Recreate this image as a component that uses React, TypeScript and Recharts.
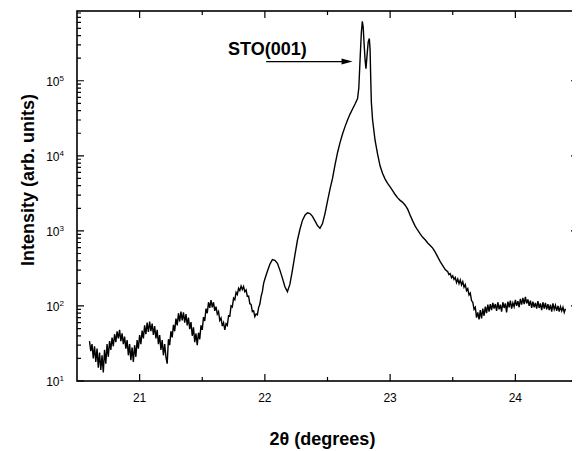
import { Line, LineChart, ReferenceLine, XAxis, YAxis } from "recharts";

const FONT = '"Liberation Sans", Arial, sans-serif';

// 2theta (deg), intensity (arb. units)
const fringesLow: [number, number][] = [
  [20.6, 34], [20.61, 25], [20.62, 31], [20.63, 20], [20.64, 29], [20.65, 18], [20.66, 27], [20.67, 15], [20.68, 24], [20.69, 14],
  [20.7, 22], [20.71, 13], [20.72, 26], [20.73, 17], [20.74, 31], [20.75, 21], [20.76, 34], [20.77, 26], [20.78, 38], [20.79, 29],
  [20.8, 42], [20.81, 33], [20.82, 46], [20.83, 37], [20.84, 48], [20.85, 34], [20.86, 43], [20.87, 31], [20.88, 39], [20.89, 27],
  [20.9, 35], [20.91, 22], [20.92, 31], [20.93, 19], [20.94, 28], [20.95, 18], [20.96, 30], [20.97, 21], [20.98, 35], [20.99, 27],
  [21.0, 41], [21.01, 31], [21.02, 47], [21.03, 37], [21.04, 55], [21.05, 42], [21.06, 60], [21.07, 45], [21.08, 62], [21.09, 46],
  [21.1, 58], [21.11, 41], [21.12, 54], [21.13, 37], [21.14, 48], [21.15, 31], [21.16, 41], [21.17, 26], [21.18, 35], [21.19, 22],
  [21.2, 31], [21.21, 21], [21.22, 17], [21.23, 36], [21.24, 30], [21.25, 46], [21.26, 38], [21.27, 56], [21.28, 46], [21.29, 68],
  [21.3, 55], [21.31, 80], [21.32, 62], [21.33, 84], [21.34, 64], [21.35, 82], [21.36, 60], [21.37, 78], [21.38, 55], [21.39, 70],
  [21.4, 49], [21.41, 61], [21.42, 40], [21.43, 52], [21.44, 33], [21.45, 43], [21.46, 30], [21.47, 44], [21.48, 36], [21.49, 55],
  [21.5, 48], [21.51, 71], [21.52, 63], [21.53, 92], [21.54, 80], [21.55, 112], [21.56, 94], [21.57, 120], [21.58, 96], [21.59, 112],
  [21.6, 86],
];

const fringesHigh: [number, number][] = [
  [21.61, 98], [21.62, 78], [21.63, 84], [21.64, 64], [21.65, 69], [21.66, 54], [21.67, 60], [21.68, 48], [21.69, 58], [21.7, 55],
  [21.71, 74], [21.72, 73], [21.73, 100], [21.74, 97], [21.75, 127], [21.76, 121], [21.77, 152], [21.78, 142], [21.79, 172], [21.8, 160],
  [21.81, 184], [21.82, 165], [21.83, 181], [21.84, 155], [21.85, 163], [21.86, 134], [21.87, 135], [21.88, 107], [21.89, 105], [21.9, 84],
  [21.91, 86], [21.92, 72], [21.93, 78], [21.94, 76], [21.95, 95], [21.96, 106], [21.97, 134], [21.98, 155], [21.99, 200], [22.0, 228],
];

const peakRegion: [number, number][] = [
  [22.02, 290], [22.04, 360], [22.06, 415], [22.08, 405], [22.1, 370], [22.12, 300], [22.14, 235], [22.16, 180], [22.18, 155],
  [22.2, 195], [22.22, 300], [22.24, 480], [22.26, 750], [22.28, 1050], [22.3, 1380], [22.32, 1620], [22.34, 1740], [22.36, 1700],
  [22.38, 1560], [22.4, 1360], [22.42, 1180], [22.44, 1080], [22.46, 1250], [22.48, 1700], [22.5, 2500], [22.52, 3600], [22.54, 5000],
  [22.56, 7600], [22.58, 11000], [22.6, 15000], [22.62, 19500], [22.64, 24500], [22.66, 30000], [22.68, 36000], [22.7, 42000],
  [22.72, 49000], [22.74, 58000], [22.75, 80000], [22.76, 190000], [22.77, 430000], [22.778, 620000], [22.785, 520000],
  [22.79, 360000], [22.8, 190000], [22.807, 145000], [22.815, 210000], [22.825, 330000], [22.834, 365000], [22.84, 260000],
  [22.845, 110000], [22.85, 52000], [22.86, 30000], [22.88, 16000], [22.9, 10500], [22.92, 7300], [22.94, 5800], [22.96, 4900],
  [22.98, 4300], [23.0, 3850], [23.02, 3450], [23.04, 3050], [23.06, 2750], [23.08, 2550], [23.1, 2400], [23.12, 2200],
  [23.14, 1950], [23.16, 1620], [23.18, 1360], [23.2, 1160], [23.22, 1020], [23.24, 910], [23.26, 820], [23.28, 760],
  [23.3, 690], [23.32, 640], [23.34, 590], [23.36, 520], [23.38, 450], [23.4, 390], [23.42, 345], [23.44, 305],
];

const tailRegion: [number, number][] = [
  [23.46, 285], [23.47, 262], [23.48, 270], [23.49, 238], [23.5, 252], [23.51, 226], [23.52, 240], [23.53, 205], [23.54, 228], [23.55, 198],
  [23.56, 222], [23.57, 190], [23.58, 210], [23.59, 178], [23.6, 192], [23.61, 160], [23.62, 170], [23.63, 140], [23.64, 148], [23.65, 118],
  [23.66, 112], [23.67, 90], [23.68, 96], [23.69, 70], [23.7, 82], [23.71, 66], [23.72, 88], [23.73, 68], [23.74, 92], [23.75, 74],
  [23.76, 98], [23.77, 80], [23.78, 104], [23.79, 84], [23.8, 106], [23.81, 88], [23.82, 110], [23.83, 92], [23.84, 106], [23.85, 86],
  [23.86, 112], [23.87, 90], [23.88, 104], [23.89, 84], [23.9, 112], [23.91, 94], [23.92, 108], [23.93, 82], [23.94, 114], [23.95, 96],
  [23.96, 118], [23.97, 92], [23.98, 110], [23.99, 98], [24.0, 120], [24.01, 100], [24.02, 116], [24.03, 96], [24.04, 124], [24.05, 104],
  [24.06, 128], [24.07, 106], [24.08, 132], [24.09, 108], [24.1, 122], [24.11, 100], [24.12, 118], [24.13, 94], [24.14, 114], [24.15, 96],
  [24.16, 110], [24.17, 92], [24.18, 116], [24.19, 94], [24.2, 108], [24.21, 88], [24.22, 112], [24.23, 92], [24.24, 110], [24.25, 90],
  [24.26, 106], [24.27, 88], [24.28, 104], [24.29, 84], [24.3, 108], [24.31, 90], [24.32, 102], [24.33, 86], [24.34, 100], [24.35, 84],
  [24.36, 98], [24.37, 86], [24.38, 96], [24.39, 82], [24.4, 92],
];

const xTicks = [21, 21.5, 22, 22.5, 23, 23.5, 24];
const yTicks = [
  10, 20, 30, 40, 50, 60, 70, 80, 90,
  100, 200, 300, 400, 500, 600, 700, 800, 900,
  1000, 2000, 3000, 4000, 5000, 6000, 7000, 8000, 9000,
  10000, 20000, 30000, 40000, 50000, 60000, 70000, 80000, 90000,
  100000, 200000, 300000, 400000, 500000, 600000, 700000, 800000,
];

const X_DOMAIN = [20.5, 24.5];
const Y_DOMAIN = [10, 850000];
const ARROW_FROM = { x: 22.01, y: 180000 };
const ARROW_TO = { x: 22.7, y: 180000 };

// plot box inside the 572x443 chart (margins + axis sizes below)
const PLOT_LEFT = 69;
const PLOT_TOP = 3;
const PLOT_W = 501;
const PLOT_H = 370;

const data = [...fringesLow, ...fringesHigh, ...peakRegion, ...tailRegion].map(([angle, counts]) => ({ angle, counts }));

const isDecade = (v: number) => Math.abs(Math.log10(v) - Math.round(Math.log10(v))) < 1e-9;

// same mapping as the chart axes, only used for the frame tick marks
const tickX = (v: number) => PLOT_LEFT + ((v - X_DOMAIN[0]) / (X_DOMAIN[1] - X_DOMAIN[0])) * PLOT_W;
const tickY = (v: number) =>
  PLOT_TOP +
  PLOT_H * (1 - (Math.log10(v) - Math.log10(Y_DOMAIN[0])) / (Math.log10(Y_DOMAIN[1]) - Math.log10(Y_DOMAIN[0])));

function BottomTick({ x, y, payload }: any) {
  if (!Number.isInteger(payload.value)) return <g />;
  return (
    <text x={x} y={y + 21} textAnchor="middle" fontSize={12} fontFamily={FONT} fill="#000">
      {payload.value}
    </text>
  );
}

function LeftTick({ x, y, payload }: any) {
  if (!isDecade(payload.value)) return <g />;
  return (
    <text x={x - 13} y={y + 5} textAnchor="end" fontSize={12} fontFamily={FONT} fill="#000">
      <tspan>10</tspan>
      <tspan dy={-5} fontSize={8}>
        {Math.round(Math.log10(payload.value))}
      </tspan>
    </text>
  );
}

function ArrowShape({ x1, y1, x2, y2 }: any) {
  return (
    <g>
      <line x1={x1} y1={y1} x2={x2 - 8} y2={y2} stroke="#000" strokeWidth={1.2} />
      <polygon points={`${x2},${y2} ${x2 - 11},${y2 - 3} ${x2 - 11},${y2 + 3}`} fill="#000" />
    </g>
  );
}

function XTitle({ viewBox }: any) {
  return (
    <text
      x={viewBox.x + viewBox.width / 2 - 5}
      y={viewBox.y + 64}
      textAnchor="middle"
      fontSize={18}
      fontWeight="bold"
      fontFamily={FONT}
      fill="#000"
    >
      2θ (degrees)
    </text>
  );
}

function Frame() {
  const bottom = PLOT_TOP + PLOT_H;
  const right = PLOT_LEFT + PLOT_W;
  let d = "";
  xTicks.forEach((v) => {
    const len = Number.isInteger(v) ? 7 : 4;
    const x = tickX(v);
    d += `M${x},${bottom}V${bottom - len}M${x},${PLOT_TOP}V${PLOT_TOP + len}`;
  });
  yTicks.forEach((v) => {
    const len = isDecade(v) ? 7 : 4;
    const y = tickY(v);
    d += `M${PLOT_LEFT},${y}H${PLOT_LEFT + len}M${right},${y}H${right - len}`;
  });
  return (
    <svg
      width={572}
      height={443}
      style={{ position: "absolute", left: 0, top: 0, pointerEvents: "none" }}
    >
      <rect x={PLOT_LEFT} y={PLOT_TOP} width={PLOT_W} height={PLOT_H} fill="none" stroke="#000" strokeWidth={1.6} />
      <path d={d} stroke="#000" strokeWidth={1.2} fill="none" />
    </svg>
  );
}

export default function App() {
  return (
    <div style={{ position: "relative", width: 572, height: 443 }}>
      <LineChart width={572} height={443} data={data} margin={{ top: PLOT_TOP, right: 2, bottom: 0, left: 0 }}>
        <XAxis
          xAxisId="main"
          dataKey="angle"
          type="number"
          domain={X_DOMAIN}
          ticks={xTicks}
          interval={0}
          allowDataOverflow
          height={70}
          tickSize={0}
          tickMargin={0}
          tickLine={false}
          tick={BottomTick}
          axisLine={false}
          label={<XTitle />}
        />
        <YAxis
          yAxisId="main"
          scale="log"
          type="number"
          domain={Y_DOMAIN}
          ticks={yTicks}
          interval={0}
          allowDataOverflow
          width={PLOT_LEFT}
          tickSize={0}
          tickMargin={0}
          tickLine={false}
          tick={LeftTick}
          axisLine={false}
        />
        <ReferenceLine
          xAxisId="main"
          yAxisId="main"
          segment={[ARROW_FROM, ARROW_TO]}
          shape={ArrowShape}
          ifOverflow="visible"
        />
        <Line
          xAxisId="main"
          yAxisId="main"
          dataKey="counts"
          type="linear"
          dot={false}
          stroke="#000"
          strokeWidth={1.4}
          isAnimationActive={false}
        />
      </LineChart>
      <Frame />
      <div
        style={{
          position: "absolute",
          left: 220,
          top: 32,
          fontFamily: FONT,
          fontSize: 18,
          fontWeight: "bold",
          lineHeight: "18px",
          whiteSpace: "nowrap",
        }}
      >
        STO(001)
      </div>
      <div
        style={{
          position: "absolute",
          left: -110,
          top: 162,
          width: 260,
          height: 20,
          lineHeight: "20px",
          textAlign: "center",
          transform: "rotate(-90deg)",
          fontFamily: FONT,
          fontSize: 18,
          fontWeight: "bold",
          whiteSpace: "nowrap",
        }}
      >
        Intensity (arb. units)
      </div>
    </div>
  );
}
